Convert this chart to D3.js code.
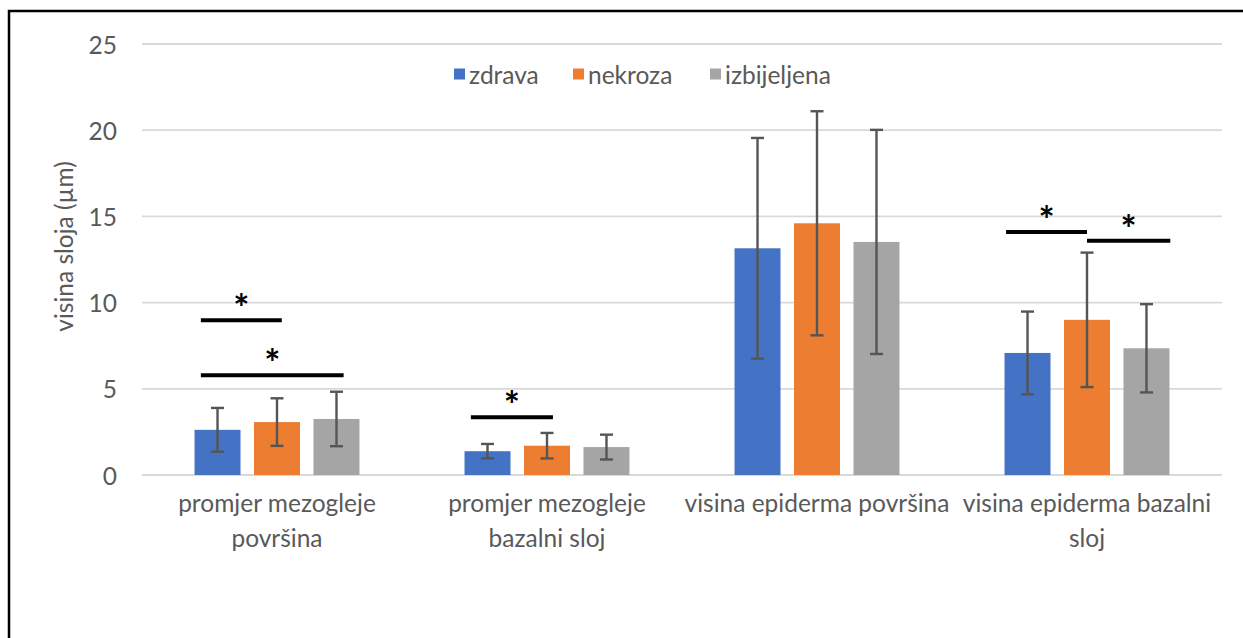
<!DOCTYPE html>
<html>
<head>
<meta charset="utf-8">
<script src="https://cdn.jsdelivr.net/npm/d3@7"></script>
<style>
  html, body { margin: 0; padding: 0; background: #fff; }
  svg { display: block; }
  text { font-family: Lato, "Open Sans", sans-serif; }
</style>
</head>
<body>
<svg id="chart" width="1243" height="638"></svg>
<script>
// Layer heights (µm) per tissue state, with standard deviations
const categories = ["pmp", "pmb", "vep", "veb"];
const categoryLabels = [
  ["promjer mezogleje", "površina"],
  ["promjer mezogleje", "bazalni sloj"],
  ["visina epiderma površina"],
  ["visina epiderma bazalni", "sloj"]
];
const seriesNames = ["zdrava", "nekroza", "izbijeljena"];
const seriesColors = ["#4472C4", "#ED7D31", "#A5A5A5"];

const zdrava      = [2.62, 1.38, 13.15, 7.08];
const nekroza     = [3.07, 1.70, 14.60, 9.00];
const izbijeljena = [3.25, 1.62, 13.52, 7.35];

const zdravaSd      = [1.27, 0.42, 6.40, 2.40];
const nekrozaSd     = [1.38, 0.74, 6.50, 3.90];
const izbijeljenaSd = [1.58, 0.72, 6.50, 2.56];

const yTicks = [0, 5, 10, 15, 20, 25];
const yTitle = "visina sloja (\u00b5m)";

// Significance bars: category, height, start/end in bar-slot units (0 = first bar centre)
const sigCategory = [0, 0, 1, 3, 3];
const sigLevel    = [8.97, 5.78, 3.35, 14.09, 13.59];
const sigFrom     = [-0.28, -0.28, -0.28, -0.36, 1.0];
const sigTo       = [1.08, 2.12, 1.10, 1.0, 2.4];

const values = [zdrava, nekroza, izbijeljena];
const sds = [zdravaSd, nekrozaSd, izbijeljenaSd];

const svg = d3.select("#chart");
const plot = { left: 142, right: 1222, top: 44, bottom: 475 };
const fontSize = 24.5;

// frame around the figure
svg.append("path")
  .attr("d", "M9,640 L9,11 L1250,11")
  .attr("fill", "none")
  .attr("stroke", "#000")
  .attr("stroke-width", 2.5);

const y = d3.scaleLinear().domain([0, 25]).range([plot.bottom, plot.top]);
const x0 = d3.scaleBand().domain(categories).range([plot.left, plot.right]);
const x1 = d3.scaleBand().domain(seriesNames).range([0, x0.bandwidth()])
  .paddingInner(0.227).paddingOuter(0.883);

// gridlines
svg.append("g").selectAll("line").data(yTicks).join("line")
  .attr("x1", plot.left).attr("x2", plot.right)
  .attr("y1", d => y(d)).attr("y2", d => y(d))
  .attr("stroke", "#d9d9d9").attr("stroke-width", 1.8);

// y tick labels
svg.append("g").selectAll("text").data(yTicks).join("text")
  .attr("x", 117).attr("y", d => y(d))
  .attr("text-anchor", "end").attr("dominant-baseline", "central")
  .attr("font-size", fontSize).attr("fill", "#595959")
  .text(d => d);

// y axis title
svg.append("text")
  .attr("transform", `translate(63,${(plot.top + plot.bottom) / 2 - 13}) rotate(-90)`)
  .attr("text-anchor", "middle").attr("dominant-baseline", "central")
  .attr("font-size", fontSize).attr("fill", "#595959")
  .text(yTitle);

// bars
const groups = svg.append("g").selectAll("g").data(categories).join("g")
  .attr("transform", d => `translate(${x0(d)},0)`);

groups.each(function(cat, ci) {
  const g = d3.select(this);
  seriesNames.forEach((s, si) => {
    const v = values[si][ci];
    g.append("rect")
      .attr("x", x1(s)).attr("width", x1.bandwidth())
      .attr("y", y(v)).attr("height", y(0) - y(v))
      .attr("fill", seriesColors[si]);
  });
  // error bars
  seriesNames.forEach((s, si) => {
    const v = values[si][ci], e = sds[si][ci];
    const cx = x1(s) + x1.bandwidth() / 2;
    const eb = g.append("g").attr("stroke", "#555").attr("stroke-width", 2.4);
    eb.append("line").attr("x1", cx).attr("x2", cx).attr("y1", y(v + e)).attr("y2", y(v - e));
    eb.append("line").attr("x1", cx - 6.5).attr("x2", cx + 6.5).attr("y1", y(v + e)).attr("y2", y(v + e));
    eb.append("line").attr("x1", cx - 6.5).attr("x2", cx + 6.5).attr("y1", y(v - e)).attr("y2", y(v - e));
  });
});

// significance markers
const slot = (ci, u) => x0(categories[ci]) + x1(seriesNames[0]) + x1.bandwidth() / 2 + u * x1.step();
sigCategory.forEach((ci, k) => {
  const xa = slot(ci, sigFrom[k]), xb = slot(ci, sigTo[k]), yy = y(sigLevel[k]);
  svg.append("line")
    .attr("x1", xa).attr("x2", xb).attr("y1", yy).attr("y2", yy)
    .attr("stroke", "#000").attr("stroke-width", 4);
  svg.append("text")
    .attr("x", (xa + xb) / 2).attr("y", yy + 2)
    .attr("text-anchor", "middle")
    .attr("font-family", "'Liberation Sans', Arial, sans-serif")
    .attr("font-weight", "bold").attr("font-size", 38)
    .attr("fill", "#000")
    .text("*");
});

// category labels
categoryLabels.forEach((lines, ci) => {
  const cx = x0(categories[ci]) + x0.bandwidth() / 2;
  const t = svg.append("text")
    .attr("text-anchor", "middle").attr("font-size", fontSize).attr("fill", "#595959");
  lines.forEach((ln, li) => {
    t.append("tspan").attr("x", cx).attr("y", 512 + li * 34.5).text(ln);
  });
});

// legend
const legendX = [454, 573, 710];
const legend = svg.append("g").selectAll("g").data(seriesNames).join("g")
  .attr("transform", (d, i) => `translate(${legendX[i]},74)`);
legend.append("rect")
  .attr("x", 0).attr("y", -5.5).attr("width", 11).attr("height", 11)
  .attr("fill", (d, i) => seriesColors[i]);
legend.append("text")
  .attr("x", 15).attr("y", 0).attr("dominant-baseline", "central")
  .attr("font-size", fontSize).attr("fill", "#595959")
  .text(d => d);
</script>
</body>
</html>
